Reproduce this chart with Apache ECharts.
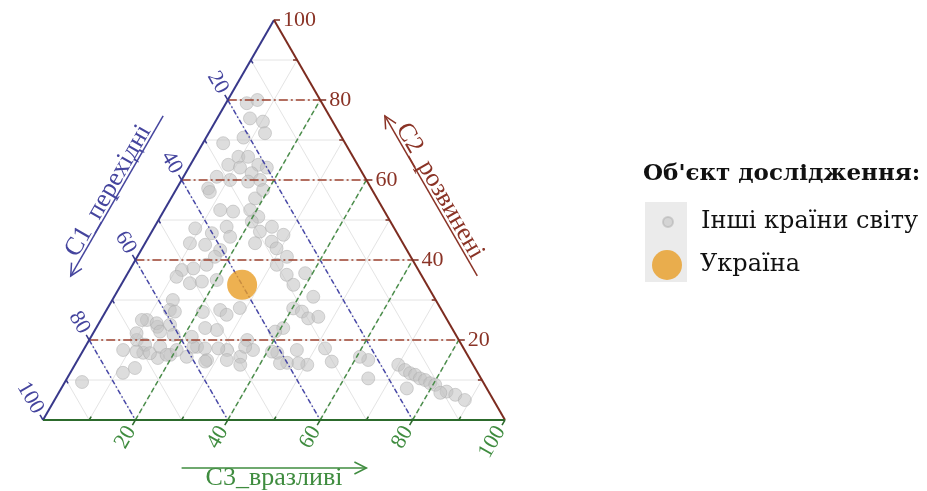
<!DOCTYPE html>
<html><head><meta charset="utf-8">
<script src="https://cdn.jsdelivr.net/npm/echarts@6/dist/echarts.min.js"></script>
<style>html,body{margin:0;padding:0;background:#fff}#c{width:927px;height:491px}</style>
</head><body><div id="c"></div>
<script>
// ---------- data ----------
const axisNames = ['C1_перехідні', 'C2_розвинені', 'C3_вразливі'];
const tickValues = [20, 40, 60, 80, 100];
const meshValues = [10, 20, 30, 40, 50, 60, 70, 80, 90];
const guideValues = [20, 40, 60, 80];
const seriesNames = ['Інші країни світу', 'Україна'];
const legendTitle = "Об'єкт дослідження:";

// Other countries: shares (%) of C1 (перехідні), C2 (розвинені), C3 (вразливі)
const othersC1 = [16.3,13.6,17.5,15.1,16.1,21.3,26.4,24.8,22.7,28.0,25.8,21.5,20.0,24.0,32.0,29.5,25.8,23.0,35.3,35.4,
  35.4,32.8,26.4,23.6,28.9,28.0,36.1,43.1,40.1,36.6,30.0,29.5,26.3,24.8,32.0,28.2,28.0,46.1,43.0,40.4,
  42.4,26.8,51.2,48.5,45.2,53.2,51.1,48.3,44.9,29.1,24.9,28.9,30.0,56.9,58.8,51.9,47.9,43.4,65.0,63.6,
  57.5,69.7,73.9,69.9,67.4,64.3,57.0,51.1,51.4,49.4,45.8,45.8,76.8,73.6,86.8,36.5,36.3,35.9,40.0,40.9,
  66.1,63.3,60.6,68.9,63.6,61.1,68.5,71.2,68.5,65.5,65.1,62.3,57.9,58.3,57.4,57.6,61.0,53.4,47.1,47.1,
  50.4,52.7,53.1,56.0,41.9,41.6,38.7,37.6,31.9,30.4,29.9,27.5,26.1,30.0,30.2,22.1,24.4,23.5,16.2,15.4,
  14.7,13.8,13.2,12.3,11.6,10.7,17.3,9.1,7.6,6.2,10.6];
const othersC2 = [79.2,80.0,75.4,74.6,71.7,70.6,69.2,65.8,65.8,63.8,63.1,63.8,63.1,61.7,60.8,60.0,59.6,60.0,57.9,57.0,
  52.5,52.1,55.4,57.5,52.5,50.8,48.3,47.9,46.7,45.8,49.6,47.1,48.3,46.3,44.2,44.6,42.9,44.2,43.8,42.5,
  40.8,40.8,37.5,37.9,38.8,35.8,34.2,34.6,35.0,36.3,36.7,33.8,38.8,30.0,27.5,27.0,27.5,28.0,25.0,23.3,
  18.3,20.0,17.5,16.8,15.5,16.3,15.0,22.5,17.5,15.8,20.0,17.5,11.8,13.0,9.5,23.0,17.5,13.8,14.3,16.8,
  25.0,24.2,23.8,21.7,22.1,21.3,18.8,17.1,16.7,18.3,16.3,17.5,27.1,18.3,20.8,14.6,15.8,23.0,26.3,18.3,
  13.8,15.0,17.9,17.9,17.1,14.2,22.1,14.2,27.9,27.1,25.4,25.8,30.8,17.9,14.6,15.0,10.4,15.8,13.8,12.5,
  11.7,11.3,10.4,10.0,9.2,8.8,7.9,7.1,6.3,5.0,6.8];
const othersC3 = [4.5,6.4,7.1,10.3,12.2,8.1,4.4,9.4,11.5,8.2,11.1,14.7,16.9,14.3,7.2,10.5,14.6,17.0,6.8,7.6,
  12.1,15.1,18.2,18.9,18.6,21.2,15.6,9.0,13.2,17.6,20.4,23.4,25.4,28.9,23.8,27.2,29.1,9.7,13.2,17.1,
  16.8,32.4,11.3,13.6,16.0,11.0,14.7,17.1,20.1,34.6,38.4,37.3,31.2,13.1,13.7,21.1,24.6,28.6,10.0,13.1,
  24.2,10.3,8.6,13.3,17.1,19.4,28.0,26.4,31.1,34.8,34.2,36.7,11.4,13.4,3.7,40.5,46.2,50.3,45.7,42.3,
  8.9,12.5,15.6,9.4,14.3,17.6,12.7,11.7,14.8,16.2,18.6,20.2,15.0,23.4,21.8,27.8,23.2,23.6,26.6,34.6,
  35.8,32.3,29.0,26.1,41.0,44.2,39.2,48.2,40.2,42.5,44.7,46.7,43.1,52.1,55.2,62.9,65.2,60.7,70.0,72.1,
  73.6,74.9,76.4,77.7,79.2,80.5,74.8,83.8,86.1,88.8,82.6];
// Ukraine
const ukraineC1 = [40.0];
const ukraineC2 = [33.8];
const ukraineC3 = [26.2];

// ---------- ternary -> cartesian ----------
const H = Math.sqrt(3) / 2;
function tern(c1, c2, c3) {
  const s = c1 + c2 + c3;
  return [(c3 + c2 / 2) * 100 / s, c2 * H * 100 / s];
}

const FONT = '"Liberation Serif", "Times New Roman", serif';
const LFONT = '"DejaVu Serif", serif';
const famColor = {
  axis: ['#38388a', '#7d2c20', '#2c6a2c'],
  label: ['#45459e', '#8a3326', '#3f8c3f'],
  guide: ['#4848a8', '#9e4331', '#4b8e4b']
};
const guideDash = [[5, 2.5, 1.5, 2.5], [9, 3, 2, 3], [5, 3]];

function lineEnds(f, v) {
  if (f === 0) return [tern(v, 100 - v, 0), tern(v, 0, 100 - v)];      // C1 = v
  if (f === 1) return [tern(100 - v, v, 0), tern(0, v, 100 - v)];      // C2 = v
  return [tern(100 - v, 0, v), tern(0, 100 - v, v)];                    // C3 = v
}
function edgePoint(f, v) {
  if (f === 0) return tern(v, 100 - v, 0);
  if (f === 1) return tern(0, v, 100 - v);
  return tern(100 - v, 0, v);
}

const meshData = [];
meshValues.forEach(v => [0, 1, 2].forEach(f => { const e = lineEnds(f, v); meshData.push([...e[0], ...e[1], f]); }));
const guideData = [];
guideValues.forEach(v => [0, 1, 2].forEach(f => { const e = lineEnds(f, v); guideData.push([...e[0], ...e[1], f]); }));
const edgeData = [
  [...tern(0, 100, 0), ...tern(100, 0, 0), 0],
  [...tern(0, 0, 100), ...tern(0, 100, 0), 1],
  [...tern(100, 0, 0), ...tern(0, 0, 100), 2]
];
const tickData = [];
meshValues.concat([100]).forEach(v => [0, 1, 2].forEach(f => tickData.push([...edgePoint(f, v), v, f])));
const labelData = [];
tickValues.forEach(v => [0, 1, 2].forEach(f => labelData.push([...edgePoint(f, v), v, f])));
const titleData = [[...tern(50, 50, 0), 0], [...tern(0, 50, 50), 1], [...tern(50, 0, 50), 2]];

const othersData = othersC1.map((c1, i) => tern(c1, othersC2[i], othersC3[i]));
const ukraineData = ukraineC1.map((c1, i) => tern(c1, ukraineC2[i], ukraineC3[i]));

function outward(api, f) {
  const e = lineEnds(f, 50);
  const a = api.coord(e[0]), b = api.coord(e[1]);
  let dx, dy;
  if (f === 1) { dx = b[0] - a[0]; dy = b[1] - a[1]; } else { dx = a[0] - b[0]; dy = a[1] - b[1]; }
  const l = Math.hypot(dx, dy);
  return [dx / l, dy / l];
}

function segRender(styleFn) {
  return function (params, api) {
    const a = api.coord([api.value(0), api.value(1)]);
    const b = api.coord([api.value(2), api.value(3)]);
    return { type: 'line', shape: { x1: a[0], y1: a[1], x2: b[0], y2: b[1] }, style: styleFn(api.value(4)) };
  };
}

const chart = echarts.init(document.getElementById('c'), null, { renderer: 'canvas' });
chart.setOption({
  animation: false,
  backgroundColor: '#ffffff',
  grid: { left: 43, top: 20, width: 462, height: 400 },
  xAxis: { type: 'value', min: 0, max: 100, show: false },
  yAxis: { type: 'value', min: 0, max: 100 * H, show: false },
  title: {
    text: legendTitle, left: 643, top: 163, padding: 0,
    textStyle: { fontFamily: LFONT, fontWeight: 'bold', fontSize: 23, color: '#111' }
  },
  graphic: [{ type: 'rect', left: 645, top: 202, shape: { width: 42, height: 80 }, style: { fill: '#ebebeb' }, z: 0 }],
  legend: [
    { data: [seriesNames[0]], left: 662, top: 210, padding: 0, itemWidth: 10, itemHeight: 10, icon: 'circle',
      textStyle: { fontFamily: LFONT, fontSize: 24, color: '#111', padding: [0, 0, 0, 23] }, z: 5 },
    { data: [seriesNames[1]], left: 652, top: 250, padding: 0, itemWidth: 30, itemHeight: 30, icon: 'circle',
      textStyle: { fontFamily: LFONT, fontSize: 24, color: '#111', padding: [0, 0, 0, 13] }, z: 5 }
  ],
  series: [
    { type: 'custom', name: 'mesh', silent: true, clip: false, z: 1, data: meshData, encode: { x: [0, 2], y: [1, 3] },
      renderItem: segRender(() => ({ stroke: '#e4e4e4', lineWidth: 1 })) },
    { type: 'scatter', name: seriesNames[0], z: 2, data: othersData, symbol: 'circle', symbolSize: 13,
      itemStyle: { color: 'rgba(195,195,195,0.7)', borderColor: 'rgba(170,170,170,0.6)', borderWidth: 1 } },
    { type: 'custom', name: 'guides', silent: true, clip: false, z: 3, data: guideData, encode: { x: [0, 2], y: [1, 3] },
      renderItem: segRender(f => ({ stroke: famColor.guide[f], lineWidth: 1.5, lineDash: guideDash[f] })) },
    { type: 'custom', name: 'edges', silent: true, clip: false, z: 4, data: edgeData, encode: { x: [0, 2], y: [1, 3] },
      renderItem: segRender(f => ({ stroke: famColor.axis[f], lineWidth: 2 })) },
    { type: 'custom', name: 'ticks', silent: true, clip: false, z: 4, data: tickData, encode: { x: 0, y: 1 },
      renderItem: function (params, api) {
        const p = api.coord([api.value(0), api.value(1)]);
        const v = api.value(2), f = api.value(3);
        const d = outward(api, f);
        const major = v % 20 === 0;
        const len = major ? 6 : -4;
        return { type: 'line', shape: { x1: p[0], y1: p[1], x2: p[0] + d[0] * len, y2: p[1] + d[1] * len },
          style: { stroke: famColor.axis[f], lineWidth: 1.5 } };
      } },
    { type: 'custom', name: 'ticklabels', silent: true, clip: false, z: 4, data: labelData, encode: { x: 0, y: 1 },
      renderItem: function (params, api) {
        const p = api.coord([api.value(0), api.value(1)]);
        const v = api.value(2), f = api.value(3);
        const d = outward(api, f);
        const rot = f === 0 ? -Math.PI / 3 : (f === 2 ? Math.PI / 3 : 0);
        return { type: 'text', x: p[0] + d[0] * 9, y: p[1] + d[1] * 9, rotation: rot,
          style: { text: String(v), fill: famColor.label[f], font: '22px ' + FONT,
            align: f === 1 ? 'left' : 'right', verticalAlign: 'middle' } };
      } },
    { type: 'custom', name: 'axistitles', silent: true, clip: false, z: 4, data: titleData, encode: { x: 0, y: 1 },
      renderItem: function (params, api) {
        const f = api.value(2);
        const ends = [[tern(0, 100, 0), tern(100, 0, 0)], [tern(0, 0, 100), tern(0, 100, 0)], [tern(100, 0, 0), tern(0, 0, 100)]][f];
        const P = api.coord(ends[0]), Q = api.coord(ends[1]);
        const C = api.coord(tern(1, 1, 1));
        const M = [(P[0] + Q[0]) / 2, (P[1] + Q[1]) / 2];
        const L = Math.hypot(Q[0] - P[0], Q[1] - P[1]);
        const d = [(Q[0] - P[0]) / L, (Q[1] - P[1]) / L];
        let n = [-d[1], d[0]];
        if (n[0] * (M[0] - C[0]) + n[1] * (M[1] - C[1]) < 0) n = [-n[0], -n[1]];
        const half = L * 0.2, off1 = 48, off2 = 58;
        const S = [M[0] - d[0] * half + n[0] * off1, M[1] - d[1] * half + n[1] * off1];
        const E = [M[0] + d[0] * half + n[0] * off1, M[1] + d[1] * half + n[1] * off1];
        const pp = [-d[1], d[0]];
        const ah = [[E[0] - d[0] * 12 + pp[0] * 6, E[1] - d[1] * 12 + pp[1] * 6], E, [E[0] - d[0] * 12 - pp[0] * 6, E[1] - d[1] * 12 - pp[1] * 6]];
        let ang = Math.atan2(-d[1], d[0]);
        if (ang > Math.PI / 2 + 0.01) ang -= Math.PI;
        if (ang < -Math.PI / 2 - 0.01) ang += Math.PI;
        return { type: 'group', children: [
          { type: 'line', shape: { x1: S[0], y1: S[1], x2: E[0], y2: E[1] }, style: { stroke: famColor.label[f], lineWidth: 1.5 } },
          { type: 'polyline', shape: { points: ah }, style: { stroke: famColor.label[f], lineWidth: 1.5, fill: null } },
          { type: 'text', x: M[0] + n[0] * off2, y: M[1] + n[1] * off2, rotation: ang,
            style: { text: axisNames[f], fill: famColor.label[f], font: '26px ' + FONT, align: 'center', verticalAlign: 'middle' } }
        ] };
      } },
    { type: 'scatter', name: seriesNames[1], z: 6, data: ukraineData, symbol: 'circle', symbolSize: 30,
      itemStyle: { color: '#e89d26' } }
  ]
});
</script>
</body></html>
